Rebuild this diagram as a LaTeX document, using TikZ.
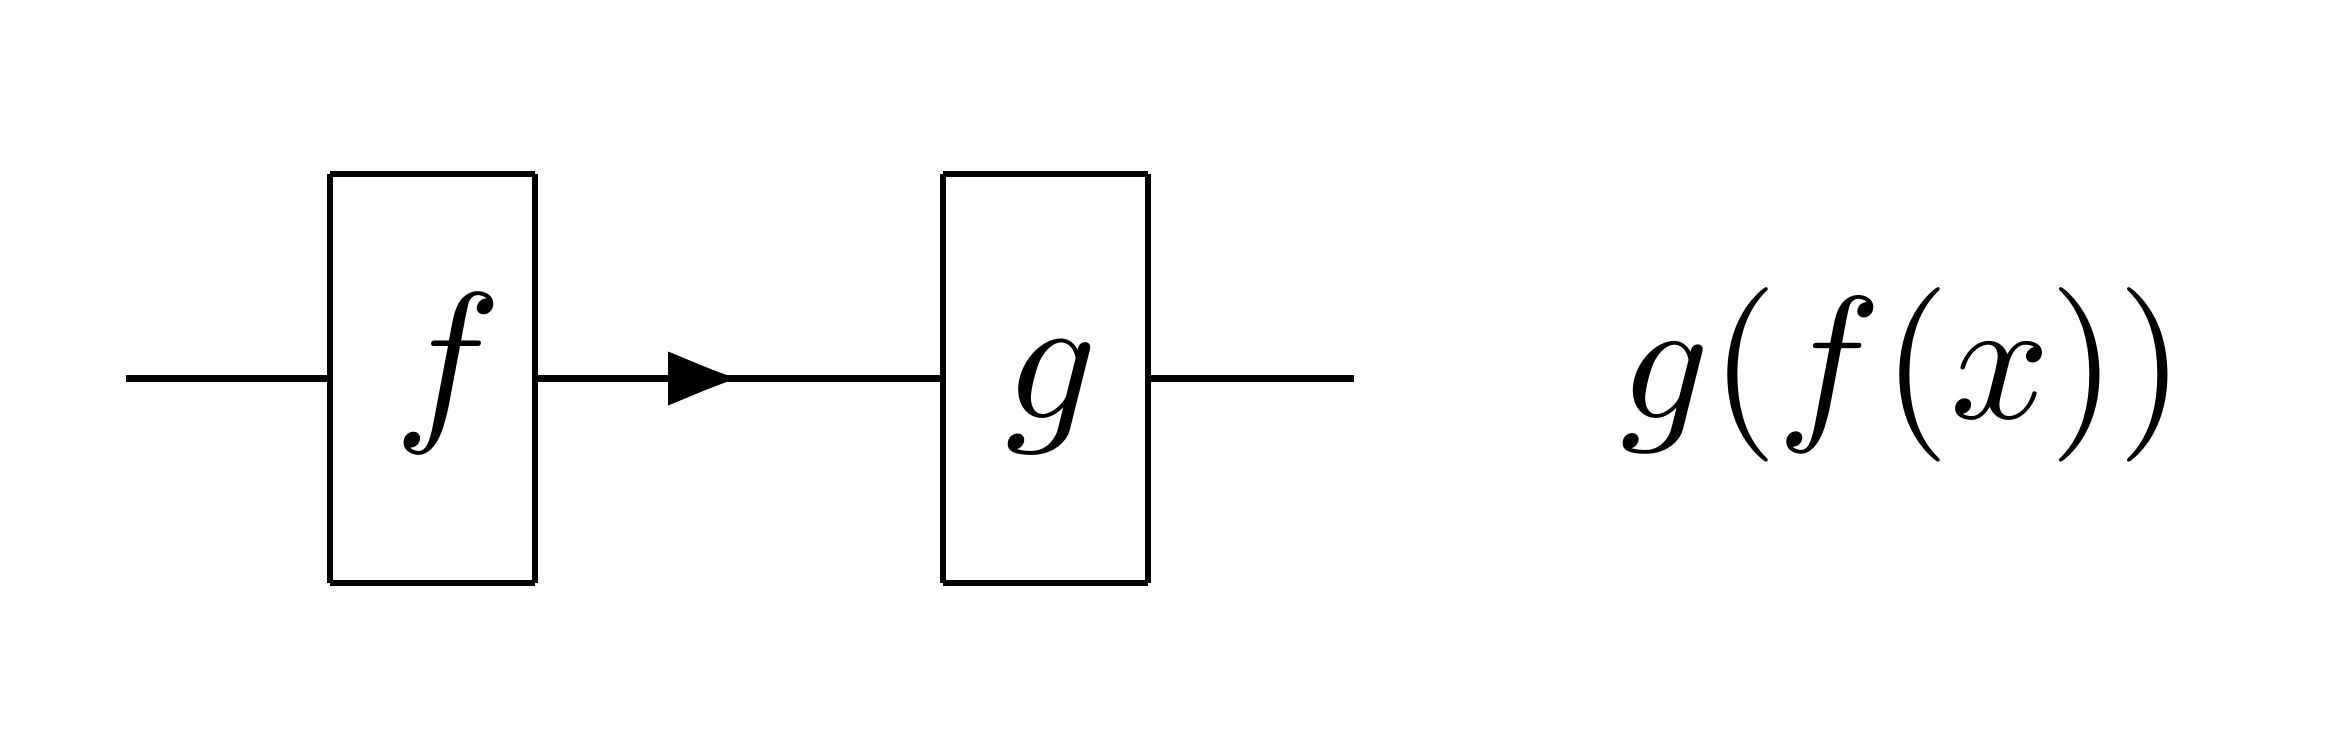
\documentclass[tikz,border=0pt]{standalone}

\begin{document}
\begin{tikzpicture}[line width=1.95pt,
  lbl/.style={anchor=base,inner sep=0pt,scale=5.12}]
  \useasboundingbox (0,0) rectangle (23.36,7.38);
  % box f
  \coordinate (F1) at (3.30,5.64);
  \coordinate (F2) at (5.35,5.64);
  \coordinate (F3) at (5.35,1.55);
  \coordinate (F4) at (3.30,1.55);
  % box g
  \coordinate (G1) at (9.43,5.64);
  \coordinate (G2) at (11.48,5.64);
  \coordinate (G3) at (11.48,1.55);
  \coordinate (G4) at (9.43,1.55);
  % wires
  \coordinate (In) at (1.26,3.595);
  \coordinate (FL) at (3.30,3.595);
  \coordinate (FR) at (5.35,3.595);
  \coordinate (M) at (7.40,3.595);
  \coordinate (GL) at (9.43,3.595);
  \coordinate (GR) at (11.48,3.595);
  \coordinate (Out) at (13.54,3.595);
  \draw (F1) -- (F2); \draw (F2) -- (F3); \draw (F3) -- (F4); \draw (F4) -- (F1);
  \draw (G1) -- (G2); \draw (G2) -- (G3); \draw (G3) -- (G4); \draw (G4) -- (G1);
  \draw (In) -- (FL);
  \draw (FR) -- (M);
  \draw (M) -- (GL);
  \draw (GR) -- (Out);
  \fill (M) ++(-0.72,0.27) .. controls ++(0.22,-0.09) and ++(-0.20,0.07) .. ++(0.60,-0.24)
        -- ++(0,-0.06) .. controls ++(-0.20,-0.07) and ++(0.22,0.09) .. ++(-0.60,-0.24) -- cycle;
  \node[lbl] (f) at (4.48,3.20) {$f$};
  \node[lbl] (g) at (10.52,3.20) {$g$};
  \node[lbl,scale=0.97] (gf) at (19.03,3.20) {$g(f(x))$};
\end{tikzpicture}
\end{document}
